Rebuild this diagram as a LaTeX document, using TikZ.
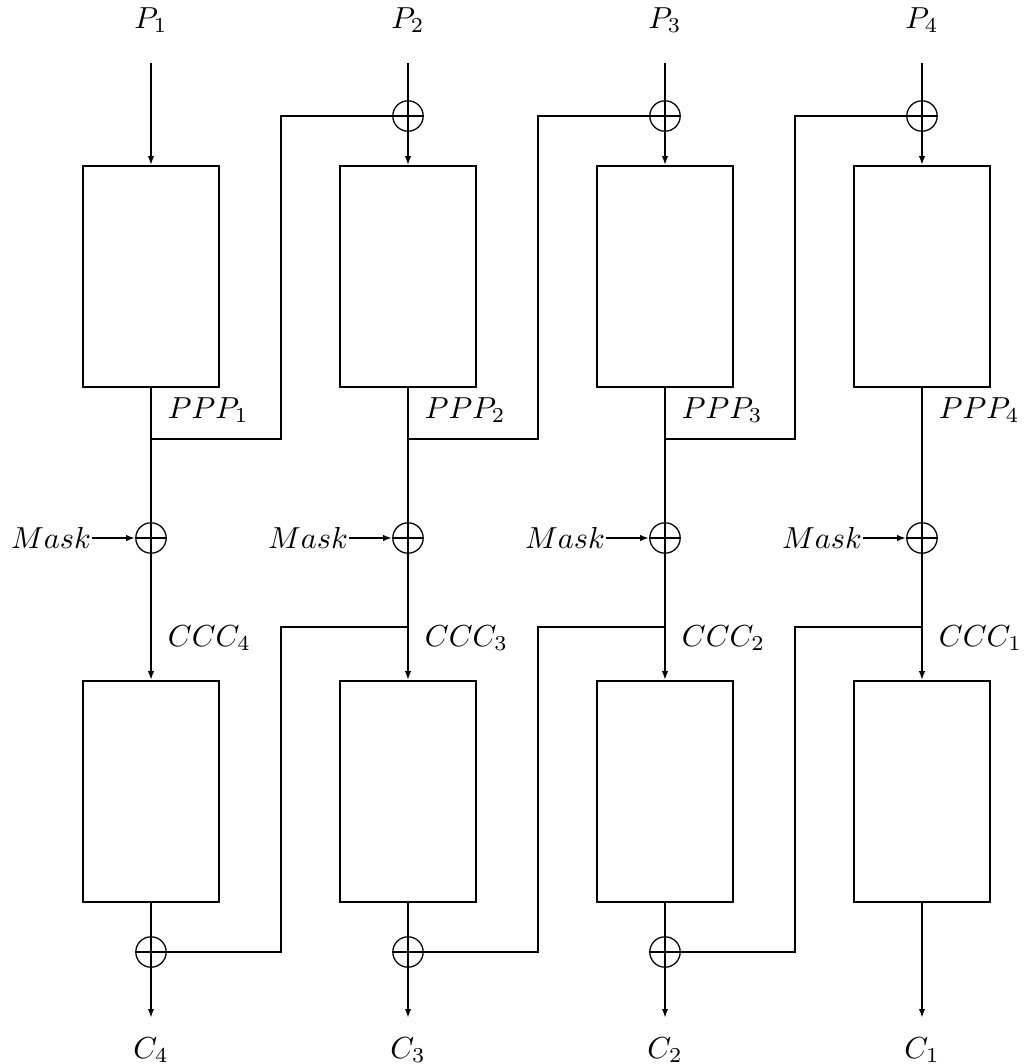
\documentclass[tikz,border=0pt]{standalone}
\usepackage{graphicx}
\usetikzlibrary{arrows.meta}
\newcommand{\lbtext}[1]{\scalebox{0.95}{$#1$}}
\begin{document}
\begin{tikzpicture}[x=0.3125pt,y=-0.3125pt, line width=0.6pt,
  blk/.style={draw, minimum width=42.5pt, minimum height=69pt, inner sep=0pt},
  xor/.style={draw, circle, line width=0.4pt, minimum size=9.5pt, inner sep=0pt,
    path picture={\draw[line width=0.4pt] (path picture bounding box.west) -- (path picture bounding box.east)
      (path picture bounding box.north) -- (path picture bounding box.south);}},
  arr/.style={-{Latex[length=2.8pt,width=2pt]}},
  lbl/.style={inner sep=0pt}]
\useasboundingbox (0,0) rectangle (1028,1064);
\foreach \i/\x/\j in {1/151/4,2/408/3,3/665/2,4/922/1}{
  \node[blk] (u\i) at (\x,276.5) {};
  \node[blk] (l\i) at (\x,791.5) {};
  \node[xor] (m\i) at (\x,538) {};
  \node (p\i) at (\x,20) {\lbtext{P_{\i}}};
  \node (c\i) at (\x,1050) {\lbtext{C_{\j}}};
  \node[lbl, anchor=west] (ppp\i) at (\x+16,410) {\lbtext{PPP_{\i}}};
  \node[lbl, anchor=west] (ccc\i) at (\x+16,638) {\lbtext{CCC_{\j}}};
  \node[lbl, anchor=east] (mk\i) at (\x-59,538) {\lbtext{Mask}};
  \coordinate (pin\i) at (\x,63);
  \coordinate (cend\i) at (\x,1018);
  \draw[arr] (pin\i) -- (u\i.north);
  \draw[arr] (u\i.south) -- (l\i.north);
  \draw[arr] (l\i.south) -- (cend\i);
  \draw[arr] (mk\i) -- (m\i.west);
}
\foreach \i/\x/\n in {1/151/2,2/408/3,3/665/4}{
  \node[xor] (t\n) at (\x+257,116) {};
  \node[xor] (b\i) at (\x,952) {};
  \coordinate (j\i) at (\x,439);
  \coordinate (rt\i) at (\x+130,116);
  \coordinate (k\i) at (\x+257,627);
  \coordinate (rb\i) at (\x+130,952);
  \draw (j\i) -| (rt\i) -- (t\n.east);
  \draw (k\i) -| (rb\i) -- (b\i.east);
}
\end{tikzpicture}
\end{document}
